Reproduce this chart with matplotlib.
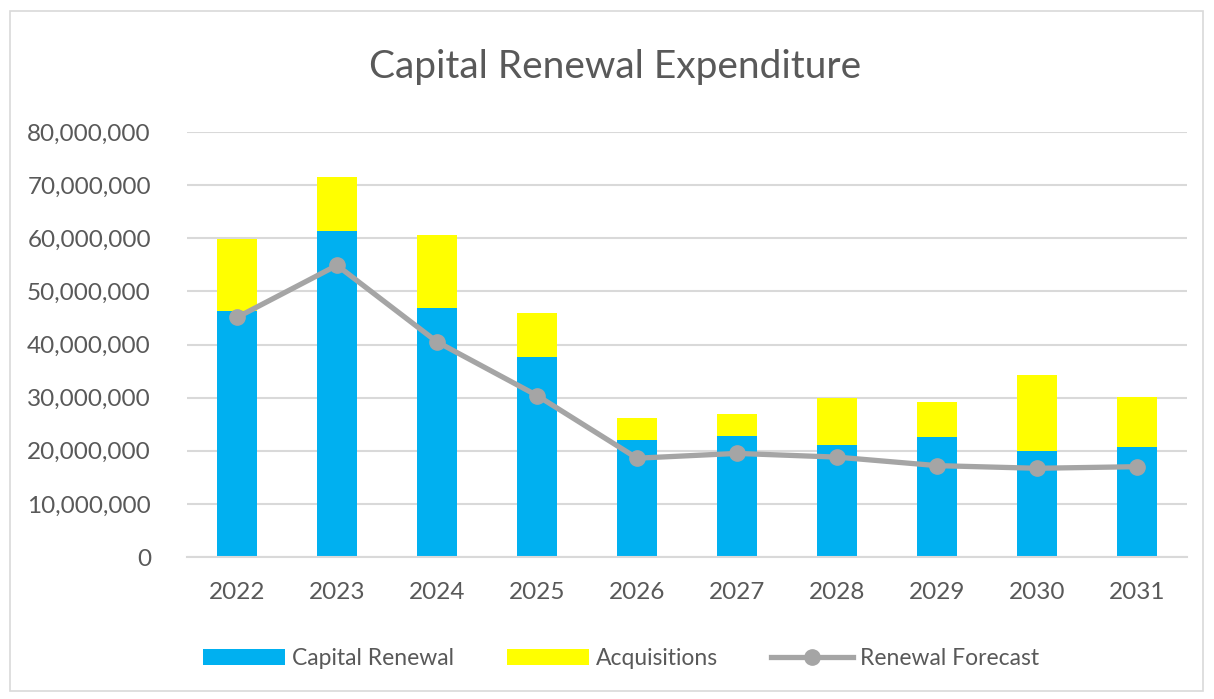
import matplotlib.pyplot as plt
from matplotlib.patches import Rectangle
from matplotlib.ticker import FuncFormatter, MultipleLocator

# Valores
years = ["2022", "2023", "2024", "2025", "2026", "2027", "2028", "2029", "2030", "2031"]
capital_renewal = [46.3e6, 61.3e6, 46.9e6, 37.6e6, 22.1e6, 22.7e6, 21.0e6, 22.5e6, 19.9e6, 20.7e6]
acquisitions = [13.5e6, 10.3e6, 13.8e6, 8.4e6, 4.0e6, 4.2e6, 8.9e6, 6.6e6, 14.4e6, 9.5e6]
renewal_forecast = [45.1e6, 54.9e6, 40.5e6, 30.4e6, 18.6e6, 19.5e6, 18.8e6, 17.2e6, 16.7e6, 17.0e6]

text_color = "#595959"
plt.rcParams["font.family"] = ["Lato", "DejaVu Sans"]

fig = plt.figure(figsize=(12.14, 6.99), dpi=100)
ax = fig.add_axes([187 / 1214, 1 - 557 / 699, 1000 / 1214, 425 / 699])

x = range(len(years))
b1 = ax.bar(x, capital_renewal, width=0.4, color="#00B0F0", label="Capital Renewal", zorder=2)
b2 = ax.bar(x, acquisitions, width=0.4, bottom=capital_renewal, color="#FFFF00",
            label="Acquisitions", zorder=2)
l1, = ax.plot(x, renewal_forecast, color="#A5A5A5", linewidth=3.8, marker="o", markersize=11,
              label="Renewal Forecast", zorder=3)

ax.set_xlim(-0.5, len(years) - 0.5)
ax.set_ylim(0, 80e6)
ax.yaxis.set_major_locator(MultipleLocator(10e6))
ax.yaxis.set_major_formatter(FuncFormatter(lambda v, p: f"{int(v):,}"))
ax.set_xticks(list(x))
ax.set_xticklabels(years)
ax.grid(axis="y", color="#D9D9D9", linewidth=1.5, zorder=0)
ax.set_axisbelow(True)
for s in ["top", "right", "left"]:
    ax.spines[s].set_visible(False)
ax.spines["bottom"].set_color("#D9D9D9")
ax.spines["bottom"].set_linewidth(1.5)
ax.tick_params(length=0, labelsize=17.5, labelcolor=text_color)
ax.tick_params(axis="x", pad=18)
ax.tick_params(axis="y", pad=26)

fig.text(0.507, 1 - 67 / 699, "Capital Renewal Expenditure", ha="center", va="center",
         fontsize=28, color=text_color)

ax.legend([b1, b2, l1], ["Capital Renewal", "Acquisitions", "Renewal Forecast"],
          loc="center", bbox_to_anchor=(0.434, -0.238), ncol=3, frameon=False,
          fontsize=16.5, labelcolor=text_color, handlelength=3.6, columnspacing=2.3,
          handletextpad=0.3)

fig.add_artist(Rectangle((10 / 1214, 8 / 699), 1193 / 1214, 680 / 699,
                         transform=fig.transFigure, fill=False,
                         edgecolor="#D9D9D9", linewidth=1.2))

fig.savefig("out.png", dpi=100)
